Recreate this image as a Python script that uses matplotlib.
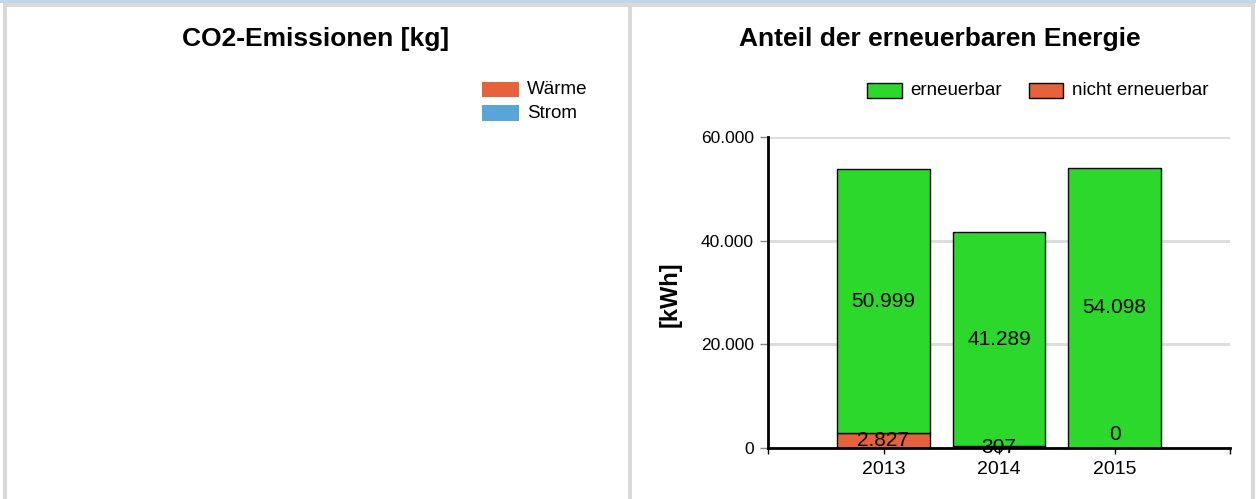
import matplotlib
matplotlib.use("Agg")
import matplotlib.pyplot as plt
from matplotlib.patches import Rectangle
from matplotlib.ticker import FuncFormatter

plt.rcParams['font.family'] = ['Liberation Sans', 'DejaVu Sans']

# Daten
jahre = ['2013', '2014', '2015']
erneuerbar = [50999, 41289, 54098]
nicht_erneuerbar = [2827, 307, 0]
y_ticks = [0, 20000, 40000, 60000]

GRUEN = '#2bd82b'
ORANGE = '#e6623a'
BLAU = '#5aa5d8'
RAHMEN = '#d9d9d9'

W, H = 1256, 499
fig = plt.figure(figsize=(W / 100, H / 100), dpi=100)
fig.patch.set_facecolor('white')


def px_rect(x0, y0, x1, y1, color, edge='none', lw=0):
    # Rechteck in Pixelkoordinaten (y von oben)
    fig.patches.append(Rectangle((x0 / W, 1 - y1 / H), (x1 - x0) / W, (y1 - y0) / H,
                                 transform=fig.transFigure, facecolor=color,
                                 edgecolor=edge, linewidth=lw, zorder=0))


def px_text(x, y, s, **kw):
    fig.text(x / W, 1 - y / H, s, **kw)


# Rahmen der beiden Kacheln
px_rect(0, 0, W, 3, '#c5d5ea')
px_rect(3, 3, W - 1, 7, RAHMEN)
px_rect(3, 3, 7, H, RAHMEN)
px_rect(628, 3, 632, H, RAHMEN)
px_rect(1251, 3, 1255, H, RAHMEN)

# Titel
px_text(316, 39, 'CO2-Emissionen [kg]', ha='center', va='center',
        fontsize=19, fontweight='bold')
px_text(940, 39, 'Anteil der erneuerbaren Energie', ha='center', va='center',
        fontsize=19, fontweight='bold')

# Linkes Diagramm: nur Legende
px_rect(482, 82, 519, 97, ORANGE)
px_rect(482, 105, 519, 121, BLAU)
px_text(527, 89, 'Wärme', ha='left', va='center', fontsize=13.5)
px_text(527, 113, 'Strom', ha='left', va='center', fontsize=13.5)

# Legende rechts
px_rect(867, 83, 902, 98, GRUEN, edge='black', lw=1)
px_rect(1029, 83, 1063, 98, ORANGE, edge='black', lw=1)
px_text(910, 90.5, 'erneuerbar', ha='left', va='center', fontsize=13.5)
px_text(1072, 90.5, 'nicht erneuerbar', ha='left', va='center', fontsize=13.5)

# Rechtes Diagramm: gestapelte Balken
ax = fig.add_axes([768 / W, 1 - 448 / H, (1230 - 768) / W, (448 - 137) / H])
x = list(range(1, len(jahre) + 1))
ax.bar(x, nicht_erneuerbar, width=0.8, color=ORANGE, edgecolor='black', linewidth=1, zorder=3)
ax.bar(x, erneuerbar, width=0.8, bottom=nicht_erneuerbar, color=GRUEN,
       edgecolor='black', linewidth=1, zorder=3)


def de(v, pos=None):
    return f'{int(v):,}'.replace(',', '.')


for xi, n, e in zip(x, nicht_erneuerbar, erneuerbar):
    ax.text(xi, n + e / 2, de(e), ha='center', va='center', fontsize=15, zorder=5)
    if n > 0:
        ax.text(xi, n / 2, de(n), ha='center', va='center', fontsize=15, zorder=5)
    else:
        ax.annotate(de(n), (xi, n), xytext=(0, 3), textcoords='offset points',
                    ha='center', va='bottom', fontsize=15, zorder=5)

ax.set_xlim(0, 4)
ax.set_ylim(0, 60000)
ax.set_xticks(x)
ax.set_xticklabels(jahre)
ax.set_xticks([0, 4], minor=True)
ax.set_yticks(y_ticks)
ax.yaxis.set_major_formatter(FuncFormatter(de))
ax.tick_params(axis='x', labelsize=14, length=4, width=1, color='black', pad=5)
ax.tick_params(axis='x', which='minor', length=4, width=1)
ax.tick_params(axis='y', labelsize=12.5, length=6, width=1, color='#888888', pad=4)
ax.grid(axis='y', color='#dcdcdc', linewidth=2, zorder=1)
for s in ['top', 'right']:
    ax.spines[s].set_visible(False)
ax.spines['left'].set_linewidth(2)
ax.spines['bottom'].set_linewidth(2)
ax.spines['bottom'].set_zorder(4)

px_text(670, 294, '[kWh]', rotation=90, ha='center', va='center',
        fontsize=17, fontweight='bold')

fig.savefig('out.png', dpi=100)
